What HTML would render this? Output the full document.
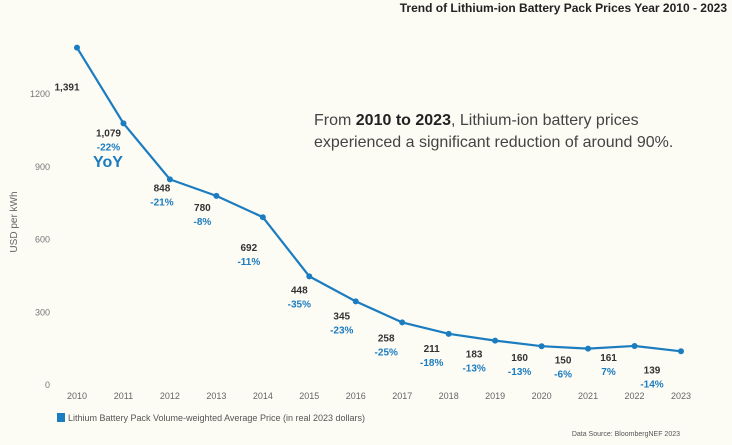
<!DOCTYPE html>
<html><head><meta charset="utf-8"><style>
html,body{margin:0;padding:0;background:#fcfbf4;}
svg{display:block;font-family:"Liberation Sans",sans-serif;}
</style></head><body>
<svg id="chart" width="732" height="445" viewBox="0 0 732 445">
<rect width="732" height="445" fill="#fcfbf4"/>
<text x="727" y="12" text-anchor="end" font-size="12" font-weight="bold" fill="#222">Trend of Lithium-ion Battery Pack Prices Year 2010 - 2023</text>
<text transform="translate(17,222) rotate(-90)" text-anchor="middle" font-size="10" fill="#666">USD per kWh</text>
<text x="314" y="125" font-size="16" fill="#444">From <tspan font-weight="bold" fill="#222">2010 to 2023</tspan>, Lithium-ion battery prices</text>
<text x="314" y="147" font-size="16" fill="#444">experienced a significant reduction of around 90%.</text>
<text x="93" y="167" font-size="16" font-weight="bold" fill="#1b7cc0">YoY</text>
<g id="yticks"></g><g id="xticks"></g><g id="series"></g><g id="labels"></g>
<rect x="57" y="413" width="8" height="9" fill="#1b7cc0"/>
<text x="68" y="421" font-size="9" fill="#555">Lithium Battery Pack Volume-weighted Average Price (in real 2023 dollars)</text>
<text x="680" y="436" text-anchor="end" font-size="7" fill="#555">Data Source: BloombergNEF 2023</text>
</svg>
<script>
const years = ["2010","2011","2012","2013","2014","2015","2016","2017","2018","2019","2020","2021","2022","2023"];
const prices = [1391,1079,848,780,692,448,345,258,211,183,160,150,161,139];
const priceLabels = ["1,391","1,079","848","780","692","448","345","258","211","183","160","150","161","139"];
const yoyLabels = ["","-22%","-21%","-8%","-11%","-35%","-23%","-25%","-18%","-13%","-13%","-6%","7%","-14%"];
const yTicks = [0,300,600,900,1200];
const lblDx = [-10,-15,-8,-14,-14,-10,-14,-16,-17,-21,-22,-25,-26,-29];
const lblDy = [39,9,8,11,30,13,14,15,14,13,11,11,11,18];
const NS="http://www.w3.org/2000/svg";
function xS(i){return 77+i*(681-77)/13;}
function yS(v){return 385-v*(385-94)/1200;}
function mk(tag,attrs,parent,text){const e=document.createElementNS(NS,tag);for(const k in attrs)e.setAttribute(k,attrs[k]);if(text!==undefined)e.textContent=text;document.getElementById(parent).appendChild(e);return e;}
yTicks.forEach(v=>{const t=mk('text',{x:50,y:yS(v)+3,'text-anchor':'end','font-size':9,fill:'#777'},'yticks',String(v));

});
years.forEach((y,i)=>{const t=mk('text',{x:xS(i),y:399,'text-anchor':'middle','font-size':9,fill:'#666'},'xticks',y);

});
const pts=prices.map((v,i)=>xS(i)+','+yS(v)).join(' ');
const line=mk('polyline',{points:pts,fill:'none',stroke:'#1b7cc0','stroke-width':2.2},'series');


prices.forEach((v,i)=>{const c=mk('circle',{cx:xS(i),cy:yS(v),r:3,fill:'#1b7cc0'},'series');


const lx=xS(i)+lblDx[i], ly=yS(v)+lblDy[i];
const t=mk('text',{x:lx,y:ly+4,'text-anchor':'middle','font-size':10,'font-weight':'bold',fill:'#333'},'labels',priceLabels[i]);


if(yoyLabels[i]){const p=mk('text',{x:lx,y:ly+18,'text-anchor':'middle','font-size':10,'font-weight':'bold',fill:'#1b7cc0'},'labels',yoyLabels[i]);

}
});
</script>
</body></html>
